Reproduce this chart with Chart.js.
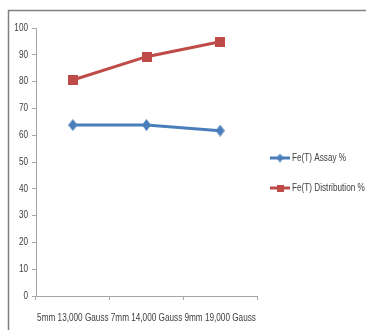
<!DOCTYPE html>
<html>
<head>
<meta charset="utf-8">
<script src="https://cdn.jsdelivr.net/npm/chart.js@4/dist/chart.umd.min.js"></script>
<style>
  html, body { margin: 0; padding: 0; background: #ffffff; }
  #wrap { position: relative; width: 366px; height: 330px; }
</style>
</head>
<body>
<div id="wrap"><canvas id="c" width="366" height="330"></canvas></div>
<script>
// Magnetic separation results by gap / field strength
const categories = ['5mm 13,000 Gauss', '7mm 14,000 Gauss', '9mm 19,000 Gauss'];
const assayPct = [63.8, 63.8, 61.7];
const distributionPct = [80.6, 89.3, 94.9];
const seriesNames = ['Fe(T) Assay %', 'Fe(T) Distribution %'];
const yTicks = [0, 10, 20, 30, 40, 50, 60, 70, 80, 90, 100];

const BLUE = '#4a7ebb';
const RED = '#be4b48';
const FONT = '"Liberation Sans", Arial, sans-serif';
const CONDENSE = 0.78;

// Narrow lettering: every text run is drawn horizontally condensed
const canvas = document.getElementById('c');
const ctx2d = canvas.getContext('2d');
const rawFillText = ctx2d.fillText.bind(ctx2d);
ctx2d.fillText = function (text, x, y, maxWidth) {
  const w = ctx2d.measureText(String(text)).width * CONDENSE;
  const limit = maxWidth === undefined ? w : Math.min(w, maxWidth);
  rawFillText(text, x, y, limit);
};

// Marker images
function diamond(w, h, color) {
  const cv = document.createElement('canvas');
  cv.width = w; cv.height = h;
  const g = cv.getContext('2d');
  g.fillStyle = color;
  g.beginPath();
  g.moveTo(w / 2, 0); g.lineTo(w, h / 2); g.lineTo(w / 2, h); g.lineTo(0, h / 2);
  g.closePath(); g.fill();
  return cv;
}
function square(s, color) {
  const cv = document.createElement('canvas');
  cv.width = s; cv.height = s;
  const g = cv.getContext('2d');
  g.fillStyle = color;
  g.fillRect(0, 0, s, s);
  return cv;
}
const blueMarker = diamond(9, 12, BLUE);
const redMarker = square(10, RED);
const blueLegendMarker = diamond(7, 9, BLUE);
const redLegendMarker = square(7, RED);

// Outer frame (left and top edges)
const framePlugin = {
  id: 'frame',
  beforeDraw(chart) {
    const ctx = chart.ctx;
    ctx.save();
    ctx.strokeStyle = '#7f7f7f';
    ctx.lineWidth = 1.5;
    ctx.beginPath();
    ctx.moveTo(8.5, 330); ctx.lineTo(8.5, 10.5); ctx.lineTo(366, 10.5);
    ctx.stroke();
    ctx.restore();
  }
};

// Legend on the right: line sample with marker, then series name
const legendPlugin = {
  id: 'sideLegend',
  afterDraw(chart) {
    const ctx = chart.ctx;
    const items = [
      { y: 158, color: BLUE, marker: blueLegendMarker },
      { y: 188, color: RED, marker: redLegendMarker }
    ];
    ctx.save();
    items.forEach((it, i) => {
      ctx.strokeStyle = it.color;
      ctx.lineWidth = 3;
      ctx.beginPath();
      ctx.moveTo(270, it.y); ctx.lineTo(290, it.y);
      ctx.stroke();
      ctx.drawImage(it.marker, 280 - it.marker.width / 2, it.y - it.marker.height / 2);
      ctx.fillStyle = '#404040';
      ctx.font = '10.5px ' + FONT;
      ctx.textBaseline = 'middle';
      ctx.textAlign = 'left';
      ctx.fillText(seriesNames[i], 292, it.y + 0.5);
    });
    ctx.restore();
  }
};

new Chart(canvas, {
  type: 'line',
  data: {
    labels: categories,
    datasets: [
      {
        label: seriesNames[0],
        data: assayPct,
        borderColor: BLUE,
        backgroundColor: BLUE,
        borderWidth: 3,
        pointStyle: blueMarker,
        tension: 0
      },
      {
        label: seriesNames[1],
        data: distributionPct,
        borderColor: RED,
        backgroundColor: RED,
        borderWidth: 3,
        pointStyle: redMarker,
        tension: 0
      }
    ]
  },
  options: {
    responsive: false,
    animation: false,
    devicePixelRatio: 1,
    layout: { padding: { left: 0, top: 28, right: 109, bottom: 0 } },
    plugins: {
      legend: { display: false },
      tooltip: { enabled: false }
    },
    scales: {
      x: {
        type: 'category',
        offset: true,
        afterFit(scale) { scale.height = 34; },
        grid: {
          offset: true,
          drawOnChartArea: false,
          drawTicks: true,
          tickLength: 4,
          color: '#a6a6a6'
        },
        border: { display: true, color: '#a6a6a6', width: 1 },
        ticks: {
          color: '#404040',
          font: { family: FONT, size: 10.5 },
          padding: 12,
          maxRotation: 0,
          autoSkip: false
        }
      },
      y: {
        min: 0,
        max: 100,
        afterFit(scale) { scale.width = 36; },
        afterBuildTicks(scale) { scale.ticks = yTicks.map(v => ({ value: v })); },
        grid: {
          drawOnChartArea: false,
          drawTicks: true,
          tickLength: 4,
          color: '#a6a6a6'
        },
        border: { display: true, color: '#a6a6a6', width: 1 },
        ticks: {
          color: '#404040',
          font: { family: FONT, size: 10.5 },
          padding: 4
        }
      }
    }
  },
  plugins: [framePlugin, legendPlugin]
});
</script>
</body>
</html>
